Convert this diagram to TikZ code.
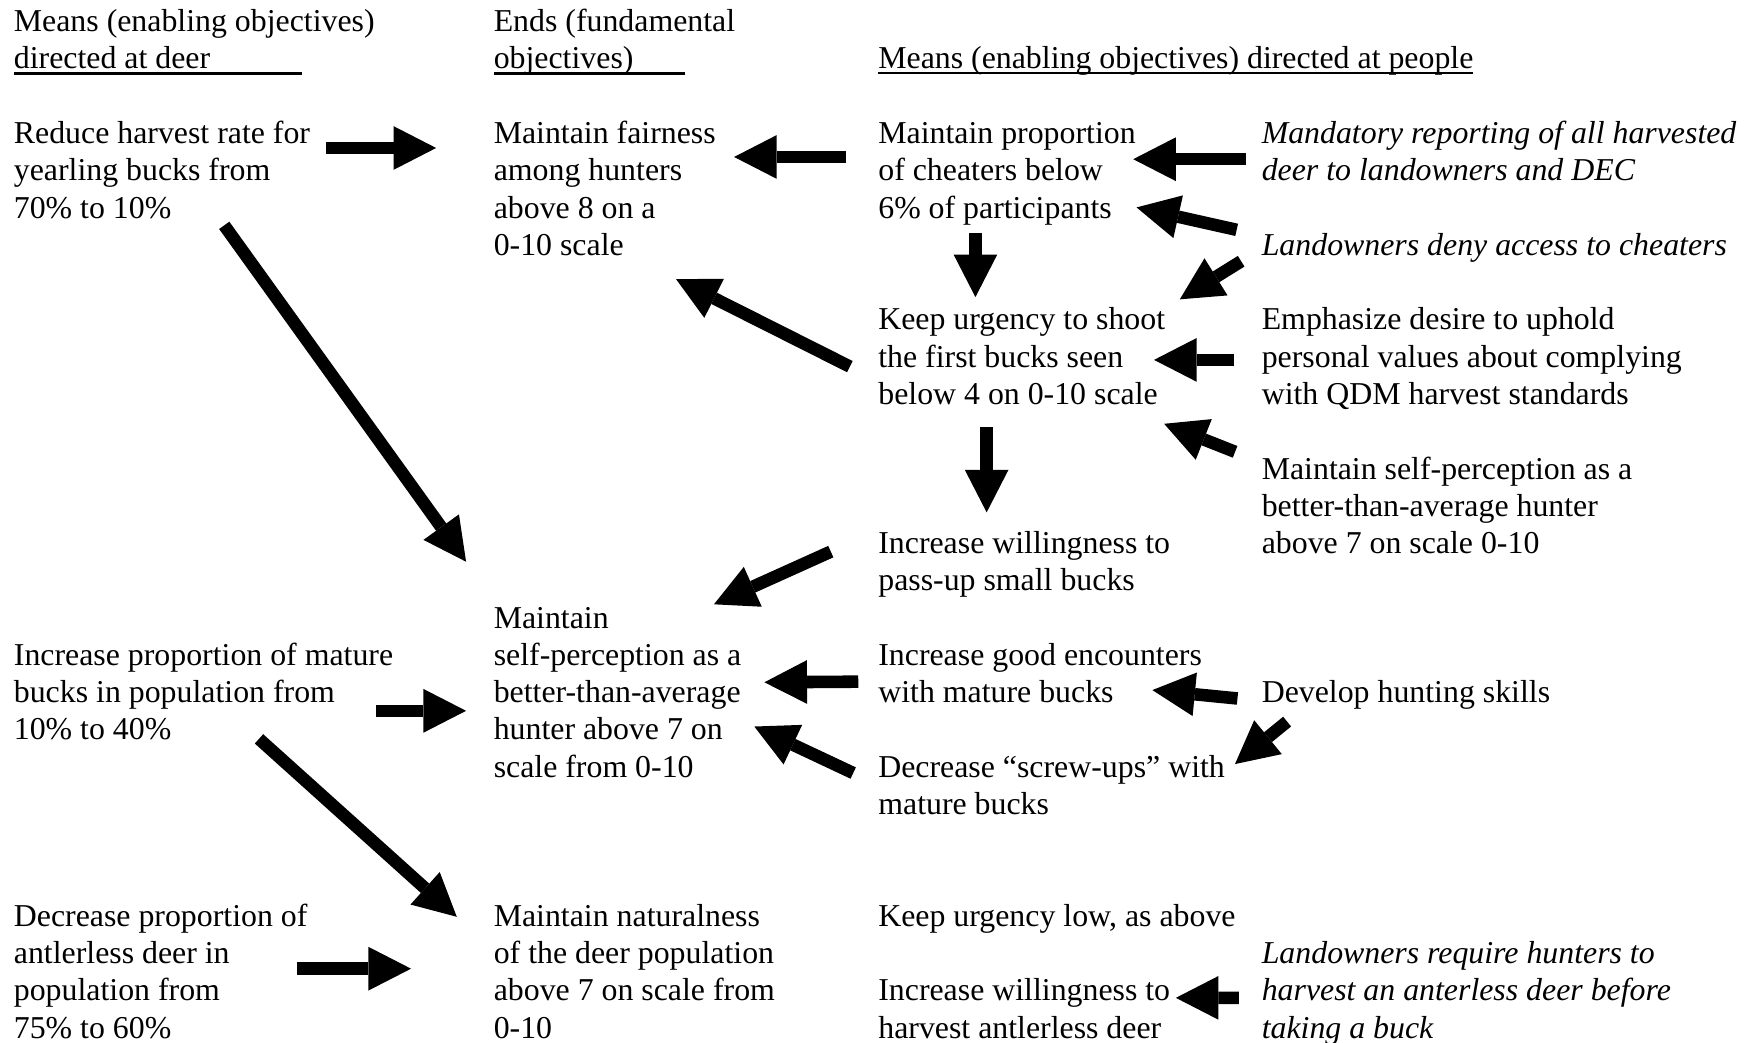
\documentclass[tikz,border=0pt]{standalone}
\usepackage{fontspec}
\setmainfont{Liberation Serif}
\usetikzlibrary{arrows.meta}
\tikzset{
	goal/.style    = {anchor=north west, inner sep=0pt, align=left,
		font=\fontsize{14.2}{16.62}\selectfont},
	tactic/.style  = {goal, font=\fontsize{14.2}{16.62}\selectfont\itshape}, % Italic actions
	link/.style    = {->, line width=5.6pt} % Block arrow
}
\newcommand{\headline}[2]{\rlap{#2}\rule[-2.7pt]{#1}{1pt}}

\begin{document}
\begin{tikzpicture}[x=0.5pt, y=-0.5pt, >={Triangle[length=19pt, width=19.5pt, line width'=0pt]}]
	\useasboundingbox (0,0) rectangle (1568,930);
	% Drawing the column headings
	\draw
	node at (12,4.3) [goal] (hdeer) {\strut Means (enabling objectives)\\ \headline{128.5pt}{directed at deer}}
	node at (440,4.3) [goal] (hends) {\strut Ends (fundamental\\ \headline{85.5pt}{objectives)}}
	node at (783,37.3) [goal] (hpeople) {\strut\headline{265.4pt}{Means (enabling objectives) directed at people}};
	
	% Drawing the means directed at deer
	\draw
	node at (12,104.4) [goal] (reduce) {\strut Reduce harvest rate for\\ yearling bucks from\\ 70\% to 10\%}
	node at (12,569.8) [goal] (mature) {\strut Increase proportion of mature\\ bucks in population from\\ 10\% to 40\%}
	node at (12,802.5) [goal] (antler) {\strut Decrease proportion of\\ antlerless deer in\\ population from\\ 75\% to 60\%};
	
	% Drawing the ends
	\draw
	node at (440,104.4) [goal] (fair) {\strut Maintain fairness\\ among hunters\\ above 8 on a\\ 0-10 scale}
	node at (440,536.55) [goal] (selfm) {\strut Maintain\\ self-perception as a\\ better-than-average\\ hunter above 7 on\\ scale from 0-10}
	node at (440,802.5) [goal] (natural) {\strut Maintain naturalness\\ of the deer population\\ above 7 on scale from\\ 0-10};
	
	% Drawing the means directed at people
	\draw
	node at (783,104.4) [goal] (cheat) {\strut Maintain proportion\\ of cheaters below\\ 6\% of participants}
	node at (783,270.6) [goal] (urge) {\strut Keep urgency to shoot\\ the first bucks seen\\ below 4 on 0-10 scale}
	node at (783,470.1) [goal] (pass) {\strut Increase willingness to\\ pass-up small bucks}
	node at (783,569.8) [goal] (good) {\strut Increase good encounters\\ with mature bucks}
	node at (783,669.5) [goal] (screw) {\strut Decrease “screw-ups” with\\ mature bucks}
	node at (783,802.5) [goal] (low) {\strut Keep urgency low, as above}
	node at (783,869) [goal] (harvest) {\strut Increase willingness to\\ harvest antlerless deer};
	
	\draw
	node at (1125,104.4) [tactic] (report) {\strut Mandatory reporting of all harvested\\ deer to landowners and DEC}
	node at (1125,204.15) [tactic] (deny) {\strut Landowners deny access to cheaters}
	node at (1125,270.6) [goal] (values) {\strut Emphasize desire to uphold\\ personal values about complying\\ with QDM harvest standards}
	node at (1125,403.6) [goal] (selfr) {\strut Maintain self-perception as a\\ better-than-average hunter\\ above 7 on scale 0-10}
	node at (1125,603) [goal] (skills) {\strut Develop hunting skills}
	node at (1125,835.7) [tactic] (require) {\strut Landowners require hunters to\\ harvest an anterless deer before\\ taking a buck};
	
	% Means to ends
	\draw[link]([shift={(13.8,27.6)}]reduce.north east) -- ([shift={(-51,27.6)}]fair.north west);
	\draw[link]([shift={(188,96.6)}]reduce.north west) -- ([shift={(-24.3,-35.55)}]selfm.north west);
	\draw[link]([shift={(-15.3,64.2)}]mature.north east) -- ([shift={(-24.3,97.45)}]selfm.north west);
	\draw[link]([shift={(219,89.2)}]mature.north west) -- ([shift={(-32.6,15.2)}]natural.north west);
	\draw[link]([shift={(252.6,61.5)}]antler.north west) -- ([shift={(-73.4,61.5)}]natural.north west);
	\draw[link]([shift={(-28,35.6)}]cheat.north west) -- ([shift={(16,35.6)}]fair.north east);
	\draw[link]([shift={(-25,56.4)}]urge.north west) -- ([shift={(163,144.6)}]fair.north west);
	\draw[link]([shift={(-42,21.9)}]pass.north west) -- ([shift={(-24.8,2.45)}]selfm.north east);
	\draw[link]([shift={(-17.5,38.2)}]good.north west) -- ([shift={(20.2,72)}]selfm.north east);
	\draw[link]([shift={(-22,20)}]screw.north west) -- ([shift={(11.2,111.45)}]selfm.north east);
	
	% Means among people
	\draw[link]([shift={(-14,37.6)}]report.north west) -- ([shift={(-2.6,37.6)}]cheat.north east);
	\draw[link]([shift={(-22,0.85)}]deny.north west) -- ([shift={(0.4,80.6)}]cheat.north east);
	\draw[link]([shift={(-18,28.85)}]deny.north west) -- ([shift={(12.7,-3.6)}]urge.north east);
	\draw[link]([shift={(87,103.6)}]cheat.north west) -- ([shift={(87,-5.6)}]urge.north west);
	\draw[link]([shift={(-24,50.4)}]values.north west) -- ([shift={(-10.3,50.4)}]urge.north east);
	\draw[link]([shift={(-23.4,-0.6)}]selfr.north west) -- ([shift={(-1.3,107.4)}]urge.north east);
	\draw[link]([shift={(97,110.4)}]urge.north west) -- ([shift={(97,-13.1)}]pass.north west);
	\draw[link]([shift={(-21.3,20)}]skills.north west) -- ([shift={(-44.6,45.7)}]good.north east);
	\draw[link]([shift={(23,40.6)}]skills.north west) -- ([shift={(8.6,12)}]screw.north east);
	\draw[link]([shift={(-20,54.3)}]require.north west) -- ([shift={(4.7,21)}]harvest.north east);
	
\end{tikzpicture}
\end{document}
